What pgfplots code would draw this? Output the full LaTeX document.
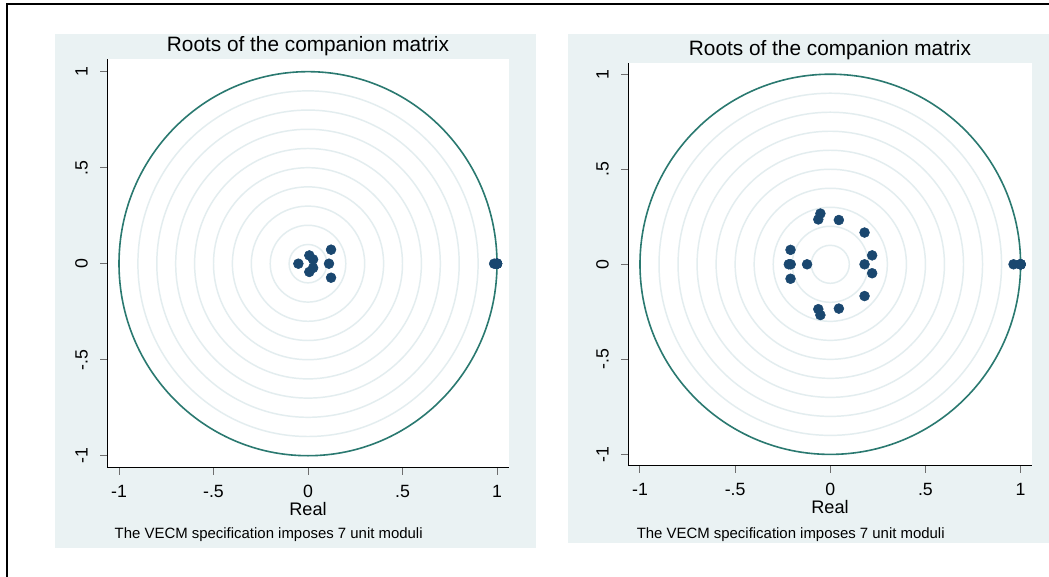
\documentclass[border=0pt]{standalone}
\usepackage{pgfplots}
\pgfplotsset{compat=1.18}
\usepackage{fontspec}
\setmainfont{Liberation Sans}
\definecolor{bgc}{RGB}{234,242,243}
\definecolor{ringc}{RGB}{227,237,239}
\definecolor{unitc}{RGB}{42,121,112}
\definecolor{navyc}{RGB}{26,71,111}
\definecolor{tickc}{RGB}{110,110,110}
\pgfplotsset{
  rootaxis/.style={
    scale only axis,
    axis lines*=left,
    axis line style={black, line width=0.75pt},
    tick align=outside,
    major tick length=5pt,
    tick style={tickc, line width=0.75pt},
    xtick={-1,-0.5,0,0.5,1}, xticklabels={-1,-.5,0,.5,1},
    ytick={-1,-0.5,0,0.5,1}, yticklabels={-1,-.5,0,.5,1},
    tick label style={font=\fontsize{13.3}{15}\selectfont},
    every y tick label/.append style={xshift=-9.6pt, rotate=90, anchor=base},
    every x tick label/.append style={anchor=base, yshift=-17pt},
    axis background/.style={fill=white},
    title={Roots of the companion matrix},
    every axis title/.style={font=\fontsize{15.6}{18}\selectfont, at={(axis description cs:0.5,1)}, anchor=base, yshift=5.25pt},
    xlabel={Real},
    every axis x label/.style={font=\fontsize{13.6}{16}\selectfont, at={(axis description cs:0.5,0)}, anchor=base, yshift=-36pt},
    clip=false,
  },
  rootmarks/.style={only marks, mark=*, mark size=3.7pt, color=navyc, mark options={draw=navyc, fill=navyc}},
}
\begin{document}
\begin{tikzpicture}
\useasboundingbox (0,0) rectangle (786.75pt,432.75pt);
\fill[white] (0,0) rectangle (786.75pt,432.75pt);
\fill[bgc] (41.25pt,21.75pt) rectangle (402pt,407.25pt);
\fill[bgc] (426pt,25.5pt) rectangle (786.75pt,407.25pt);
\draw[black, line width=1.5pt] (5.6pt,0pt) -- (5.6pt,430.1pt) -- (786.75pt,430.1pt);
% left panel
\begin{axis}[rootaxis, at={(80.25pt,81.75pt)}, anchor=south west,
  width=301.5pt, height=306.75pt,
  xmin=-1.0635, xmax=1.0635, ymin=-1.064, ymax=1.066]
\pgfplotsinvokeforeach{0.1,0.2,0.3,0.4,0.5,0.6,0.7,0.8,0.9}{
  \draw[ringc, line width=1.1pt] (axis cs:0,0) ellipse [x radius=#1, y radius=#1];
}
\draw[unitc, line width=1.2pt] (axis cs:0,0) ellipse [x radius=1, y radius=1];
\addplot[rootmarks] coordinates {
  (-0.051,0) (0.007,0.043) (0.007,-0.043) (0.027,0.022) (0.027,-0.022)
  (0.122,0.073) (0.122,-0.073) (0.111,0)
  (0.985,0) (1,0) (1,0) (1,0) (1,0) (1,0) (1,0) (1,0)
};
\node[anchor=base west, font=\fontsize{11.2}{13}\selectfont, yshift=-53.25pt] at (axis description cs:0.0075,0) {The VECM specification imposes 7 unit moduli};
\end{axis}
% right panel
\begin{axis}[rootaxis, at={(471pt,83.25pt)}, anchor=south west,
  width=303pt, height=302.25pt,
  xmin=-1.063, xmax=1.06, ymin=-1.061, ymax=1.059]
\pgfplotsinvokeforeach{0.1,0.2,0.3,0.4,0.5,0.6,0.7,0.8,0.9}{
  \draw[ringc, line width=1.1pt] (axis cs:0,0) ellipse [x radius=#1, y radius=#1];
}
\draw[unitc, line width=1.2pt] (axis cs:0,0) ellipse [x radius=1, y radius=1];
\addplot[rootmarks] coordinates {
  (-0.052,0.267) (-0.052,-0.267) (-0.063,0.236) (-0.063,-0.236)
  (0.045,0.233) (0.045,-0.233) (0.180,0.167) (0.180,-0.167)
  (-0.209,0.076) (-0.209,-0.076) (0.220,0.047) (0.220,-0.047)
  (-0.218,0) (-0.208,0) (-0.122,0) (0.180,0)
  (0.963,0) (1,0) (1,0) (1,0) (1,0) (1,0) (1,0)
};
\node[anchor=base west, font=\fontsize{11.2}{13}\selectfont, yshift=-54.75pt] at (axis description cs:0.01,0) {The VECM specification imposes 7 unit moduli};
\end{axis}
\end{tikzpicture}
\end{document}
